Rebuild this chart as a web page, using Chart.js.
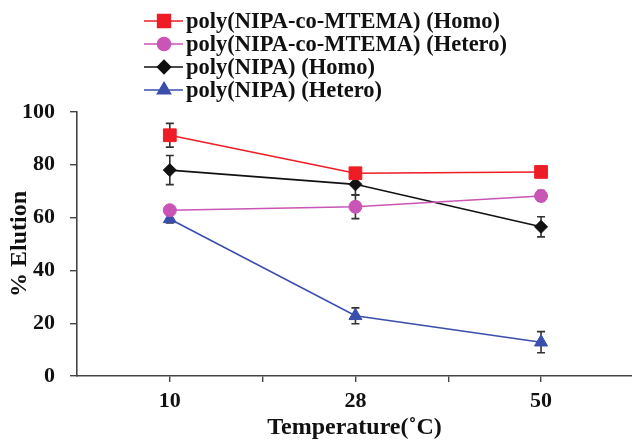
<!DOCTYPE html>
<html><head><meta charset="utf-8">
<script src="https://cdn.jsdelivr.net/npm/chart.js@4/dist/chart.umd.min.js"></script>
<style>html,body{margin:0;padding:0;background:#fff}#wrap{width:632px;height:440px;position:relative}</style>
</head><body><div id="wrap"><canvas id="c" width="632" height="440"></canvas></div>
<script>
// ---- data ----
const temperatures = ['10', '28', '50'];
const seriesNames = ['poly(NIPA-co-MTEMA) (Homo)', 'poly(NIPA-co-MTEMA) (Hetero)', 'poly(NIPA) (Homo)', 'poly(NIPA) (Hetero)'];
const mtemaHomo = [91.2, 76.8, 77.3];
const mtemaHomoErr = [4.5, 1.5, 1.5];
const mtemaHetero = [62.8, 64.1, 68.2];
const mtemaHeteroErr = [1.5, 4.5, 2.0];
const nipaHomo = [78.0, 72.6, 56.5];
const nipaHomoErr = [5.5, 4.0, 3.8];
const nipaHetero = [59.5, 22.8, 12.8];
const nipaHeteroErr = [1.5, 3.0, 4.0];
const yTickValues = [0, 10, 20, 30, 40, 50, 60, 70, 80, 90, 100];
const yLabelValues = [0, 20, 40, 60, 80, 100];

const FONT = "'Liberation Serif', 'Times New Roman', serif";
const toPts = arr => arr.map((v, i) => ({x: i + 1, y: v}));

const styles = [
  {color: '#ee1d25', pointStyle: 'rect', radius: 9},
  {color: '#c955b6', pointStyle: 'circle', radius: 6.5},
  {color: '#111111', pointStyle: 'rectRot', radius: 6.5},
  {color: '#3a4ead', pointStyle: 'triangle', radius: 7.5}
];
const values = [mtemaHomo, mtemaHetero, nipaHomo, nipaHetero];
const errors = [mtemaHomoErr, mtemaHeteroErr, nipaHomoErr, nipaHeteroErr];

const datasets = values.map((vals, i) => ({
  label: seriesNames[i],
  data: toPts(vals),
  errors: errors[i],
  borderColor: styles[i].color,
  backgroundColor: styles[i].color,
  pointBackgroundColor: styles[i].color,
  pointBorderColor: styles[i].color,
  pointBorderWidth: 1,
  pointStyle: styles[i].pointStyle,
  pointRadius: styles[i].radius,
  borderWidth: 1.6,
  tension: 0,
  fill: false
}));

const errorBars = {
  id: 'errorBars',
  beforeDatasetsDraw(chart) {
    const ctx = chart.ctx, ys = chart.scales.y;
    ctx.save();
    ctx.strokeStyle = '#333';
    ctx.lineWidth = 1.6;
    chart.data.datasets.forEach((ds, i) => {
      const meta = chart.getDatasetMeta(i);
      meta.data.forEach((pt, j) => {
        const v = ds.data[j].y, e = ds.errors[j];
        const x = pt.x, y1 = ys.getPixelForValue(v + e), y2 = ys.getPixelForValue(v - e);
        ctx.beginPath();
        ctx.moveTo(x, y1); ctx.lineTo(x, y2);
        ctx.moveTo(x - 4, y1); ctx.lineTo(x + 4, y1);
        ctx.moveTo(x - 4, y2); ctx.lineTo(x + 4, y2);
        ctx.stroke();
      });
    });
    ctx.restore();
  }
};

const customLegend = {
  id: 'customLegend',
  afterDraw(chart) {
    const ctx = chart.ctx;
    const rows = [21, 44, 67, 90];
    ctx.save();
    chart.data.datasets.forEach((ds, i) => {
      const y = rows[i];
      ctx.strokeStyle = ds.borderColor;
      ctx.lineWidth = 1.6;
      ctx.beginPath(); ctx.moveTo(144, y); ctx.lineTo(183, y); ctx.stroke();
      ctx.fillStyle = ds.pointBackgroundColor;
      ctx.strokeStyle = ds.pointBorderColor;
      if (Chart.helpers && Chart.helpers.drawPoint) {
        Chart.helpers.drawPoint(ctx, {pointStyle: ds.pointStyle, radius: ds.pointRadius, rotation: 0, borderWidth: 1}, 164, y);
      } else {
        ctx.beginPath(); ctx.arc(164, y, 6, 0, Math.PI * 2); ctx.fill();
      }
      ctx.fillStyle = '#111';
      ctx.font = 'bold 22.5px ' + FONT;
      ctx.textAlign = 'left';
      ctx.textBaseline = 'middle';
      ctx.fillText(ds.label, 186, y + 1);
    });
    ctx.restore();
  }
};

new Chart(document.getElementById('c'), {
  type: 'line',
  data: {datasets},
  options: {
    responsive: false,
    animation: false,
    devicePixelRatio: 1,
    layout: {autoPadding: false, padding: {top: 112, right: 0, bottom: 0, left: 0}},
    plugins: {legend: {display: false}, tooltip: {enabled: false}},
    scales: {
      x: {
        type: 'linear',
        min: 0.5,
        max: 3.49,
        afterBuildTicks: s => { s.ticks = [1, 1.5, 2, 2.5, 3].map(v => ({value: v})); },
        afterFit: s => { s.height = 64; s.paddingLeft = 0; s.paddingRight = 0; },
        ticks: {
          autoSkip: false, maxRotation: 0, padding: 6,
          color: '#111', font: {family: FONT, size: 22, weight: 'bold'},
          callback: v => Number.isInteger(v) ? temperatures[v - 1] : ''
        },
        grid: {drawOnChartArea: false, drawTicks: true, tickLength: 6, color: '#444', lineWidth: 1.4},
        border: {display: true, color: '#444', width: 1.6},
        title: {display: true, text: 'Temperature(˚C)', color: '#111', font: {family: FONT, size: 24, weight: 'bold', lineHeight: 1}, padding: {top: 0, bottom: 0}}
      },
      y: {
        min: 0, max: 100,
        afterBuildTicks: s => { s.ticks = yTickValues.map(v => ({value: v})); },
        afterFit: s => { s.width = 77; },
        ticks: {
          padding: 15, color: '#111', font: {family: FONT, size: 22, weight: 'bold'},
          callback: v => yLabelValues.includes(v) ? String(v) : ''
        },
        grid: {drawOnChartArea: false, drawTicks: true, tickLength: 7, color: '#444', lineWidth: 1.4},
        border: {display: true, color: '#444', width: 1.6},
        title: {display: true, text: '% Elution', color: '#111', font: {family: FONT, size: 24, weight: 'bold', lineHeight: 1}, padding: {top: 8, bottom: 0}}
      }
    }
  },
  plugins: [errorBars, customLegend]
});
</script></body></html>
